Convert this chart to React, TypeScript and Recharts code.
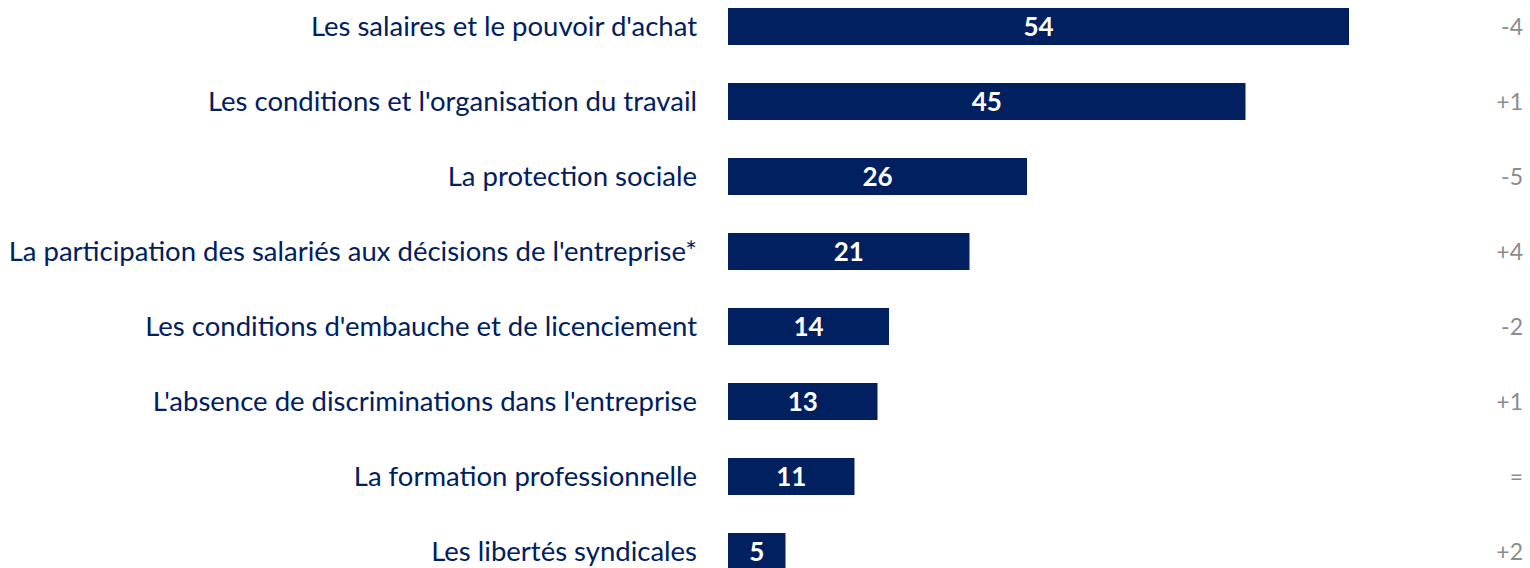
import { BarChart, Bar, XAxis, YAxis, LabelList } from "recharts";

const categories = [
  "Les salaires et le pouvoir d'achat",
  "Les conditions et l'organisation du travail",
  "La protection sociale",
  "La participation des salariés aux décisions de l'entreprise*",
  "Les conditions d'embauche et de licenciement",
  "L'absence de discriminations dans l'entreprise",
  "La formation professionnelle",
  "Les libertés syndicales",
];
const values = [54, 45, 26, 21, 14, 13, 11, 5];
const changes = ["-4", "+1", "-5", "+4", "-2", "+1", "=", "+2"];

const NAVY = "#002060";
const GREY = "#8c8c8c";
const FONT = "Lato, 'Open Sans', sans-serif";

const data = categories.map((name, i) => ({ name, value: values[i], change: changes[i] }));
const changeByName: Record<string, string> = {};
data.forEach((d) => (changeByName[d.name] = d.change));

const LeftTick = (props: any) => {
  const { x, y, payload } = props;
  return (
    <text x={x - 23} y={y} dy={9} textAnchor="end" fill={NAVY} fontSize={27.5} fontFamily={FONT}>
      {payload.value}
    </text>
  );
};

const RightTick = (props: any) => {
  const { x, y, payload } = props;
  return (
    <text x={x + 97} y={y} dy={8} textAnchor="end" fill={GREY} fontSize={23} fontFamily={FONT}>
      {changeByName[payload.value]}
    </text>
  );
};

export default function App() {
  return (
    <div style={{ position: "absolute", left: 0, top: 0, width: 1530, height: 568, overflow: "hidden", background: "#fff" }}>
      <div style={{ position: "absolute", left: 0, top: -11 }}>
        <BarChart
          layout="vertical"
          width={1530}
          height={600}
          data={data}
          margin={{ top: 0, right: 0, bottom: 0, left: 0 }}
        >
          <XAxis type="number" domain={[0, 60]} hide />
          <YAxis
            yAxisId="left"
            type="category"
            dataKey="name"
            width={728}
            axisLine={false}
            tickLine={false}
            tick={<LeftTick />}
            interval={0}
          />
          <YAxis
            yAxisId="right"
            orientation="right"
            type="category"
            dataKey="name"
            width={112}
            axisLine={false}
            tickLine={false}
            tick={<RightTick />}
            interval={0}
          />
          <Bar yAxisId="left" dataKey="value" fill={NAVY} barSize={37} isAnimationActive={false}>
            <LabelList
              dataKey="value"
              position="center"
              fill="#ffffff"
              fontSize={26}
              fontWeight="bold"
              fontFamily={FONT}
            />
          </Bar>
        </BarChart>
      </div>
    </div>
  );
}
